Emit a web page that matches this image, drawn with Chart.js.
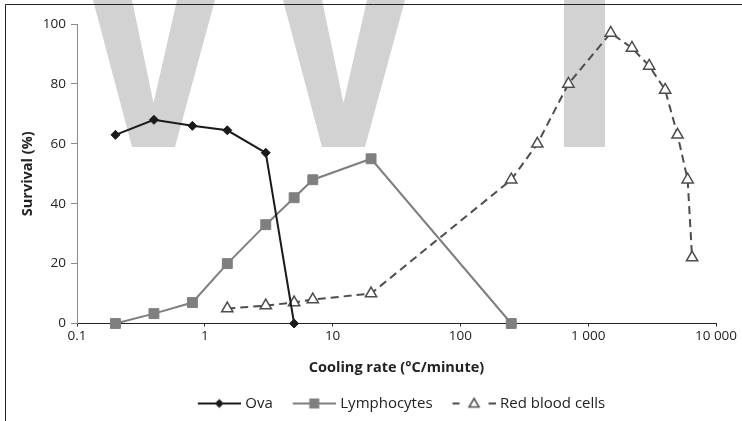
<!DOCTYPE html>
<html>
<head>
<meta charset="utf-8">
<script src="https://cdn.jsdelivr.net/npm/chart.js@4.4.1/dist/chart.umd.min.js"></script>
<style>
  html, body { margin: 0; padding: 0; background: #fff; }
</style>
</head>
<body>
<canvas id="myChart" width="742" height="421"></canvas>
<script>
// values
const ovaRate = [0.2, 0.4, 0.8, 1.5, 3, 5];
const ovaSurvival = [63, 68, 66, 64.5, 57, 0];
const lymphRate = [0.2, 0.4, 0.8, 1.5, 3, 5, 7, 20, 250];
const lymphSurvival = [0, 3.3, 7, 20, 33, 42, 48, 55, 0];
const rbcRate = [1.5, 3, 5, 7, 20, 250, 400, 700, 1500, 2200, 3000, 4000, 5000, 6000, 6500];
const rbcSurvival = [5, 6, 7, 8, 10, 48, 60, 80, 97, 92, 86, 78, 63, 48, 22];
const seriesNames = ["Ova", "Lymphocytes", "Red blood cells"];
const xTicks = [0.1, 1, 10, 100, 1000, 10000];
const xTickLabels = ["0.1", "1", "10", "100", "1 000", "10 000"];
const yTicks = [0, 20, 40, 60, 80, 100];

const family = "'Open Sans', sans-serif";
const ovaColor = "#1a1a1a";
const lymphColor = "#7f7f7f";
const rbcColor = "#4d4d4d";

const toPoints = (xs, ys) => xs.map((x, i) => ({ x, y: ys[i] }));

// legend samples: line with the marker in the middle
function legendIcon(kind) {
  const c = document.createElement("canvas");
  c.width = 56;
  c.height = 16;
  const g = c.getContext("2d");
  const x0 = 13, x1 = 56, cx = (x0 + x1) / 2, cy = 8;
  g.lineWidth = 2;
  if (kind === 0) {
    g.strokeStyle = ovaColor;
    g.beginPath(); g.moveTo(x0, cy); g.lineTo(x1, cy); g.stroke();
    g.fillStyle = ovaColor;
    g.beginPath();
    g.moveTo(cx, cy - 4.5); g.lineTo(cx + 4.5, cy); g.lineTo(cx, cy + 4.5); g.lineTo(cx - 4.5, cy);
    g.closePath(); g.fill();
  } else if (kind === 1) {
    g.strokeStyle = lymphColor;
    g.beginPath(); g.moveTo(x0, cy); g.lineTo(x1, cy); g.stroke();
    g.fillStyle = lymphColor;
    g.fillRect(cx - 5, cy - 5, 10, 10);
  } else {
    g.strokeStyle = rbcColor;
    g.beginPath();
    g.moveTo(x0, cy); g.lineTo(x0 + 7, cy);
    g.moveTo(x1 - 7, cy); g.lineTo(x1, cy);
    g.stroke();
    g.lineWidth = 1.5;
    g.beginPath();
    g.moveTo(cx, cy - 5); g.lineTo(cx + 5, cy + 3.5); g.lineTo(cx - 5, cy + 3.5);
    g.closePath(); g.stroke();
  }
  return c;
}
const legendIcons = [legendIcon(0), legendIcon(1), legendIcon(2)];

const watermark = {
  id: "watermark",
  beforeDraw(chart) {
    const g = chart.ctx;
    g.save();
    g.fillStyle = "#fff";
    g.fillRect(0, 0, chart.width, chart.height);
    g.fillStyle = "#d2d2d2";
    const vee = (dx) => {
      g.beginPath();
      g.moveTo(93 + dx, 0); g.lineTo(132 + dx, 0); g.lineTo(153.5 + dx, 103);
      g.lineTo(177 + dx, 0); g.lineTo(215 + dx, 0); g.lineTo(175 + dx, 147);
      g.lineTo(132 + dx, 147); g.closePath(); g.fill();
    };
    vee(0);
    vee(190);
    g.fillRect(564, 0, 41, 147);
    g.restore();
  },
  afterDraw(chart) {
    const g = chart.ctx;
    g.save();
    g.strokeStyle = "#222";
    g.lineWidth = 1;
    g.beginPath();
    g.moveTo(5.5, 421); g.lineTo(5.5, 4.5); g.lineTo(742, 4.5);
    g.stroke();
    g.restore();
  }
};

const ctx = document.getElementById("myChart");
const myChart = new Chart(ctx, {
  type: "scatter",
  data: {
    datasets: [
      {
        label: seriesNames[0],
        data: toPoints(ovaRate, ovaSurvival),
        showLine: true,
        borderColor: ovaColor,
        backgroundColor: ovaColor,
        borderWidth: 2,
        pointStyle: "rectRot",
        pointRadius: 4.5,
        pointBorderWidth: 1,
        clip: false,
      },
      {
        label: seriesNames[1],
        data: toPoints(lymphRate, lymphSurvival),
        showLine: true,
        borderColor: lymphColor,
        backgroundColor: lymphColor,
        borderWidth: 2,
        pointStyle: "rect",
        pointRadius: 7,
        pointBorderWidth: 1,
        clip: false,
      },
      {
        label: seriesNames[2],
        data: toPoints(rbcRate, rbcSurvival),
        showLine: true,
        borderColor: rbcColor,
        backgroundColor: "#fff",
        borderWidth: 2,
        borderDash: [8, 5],
        pointStyle: "triangle",
        pointRadius: 6.5,
        pointBorderWidth: 1.5,
        clip: false,
      },
    ],
  },
  options: {
    responsive: false,
    animation: false,
    layout: { padding: { left: 0, right: 26, top: 24, bottom: 0 } },
    scales: {
      x: {
        type: "logarithmic",
        min: 0.1,
        max: 10000,
        afterBuildTicks: (s) => { s.ticks = xTicks.map((v) => ({ value: v })); },
        afterFit: (s) => { s.height = 62.5; },
        ticks: {
          autoSkip: false,
          maxRotation: 0,
          padding: 2,
          color: "#222",
          font: { family, size: 13.5 },
          callback: (v, i) => xTickLabels[i],
        },
        grid: { drawOnChartArea: false, tickLength: 3, color: "#222" },
        border: { color: "#222", width: 1 },
        title: {
          display: true,
          text: "Cooling rate (°C/minute)",
          color: "#222",
          font: { family, size: 14.5, weight: "bold" },
          padding: { top: 0, bottom: 9 },
        },
      },
      y: {
        min: 0,
        max: 100,
        afterBuildTicks: (s) => { s.ticks = yTicks.map((v) => ({ value: v })); },
        afterFit: (s) => { s.width = 77; },
        ticks: { padding: 5, color: "#222", font: { family, size: 13.5 } },
        grid: { drawOnChartArea: false, tickLength: 6, color: "#8c8c8c" },
        border: { color: "#8c8c8c", width: 1 },
        title: {
          display: true,
          text: "Survival (%)",
          color: "#222",
          font: { family, size: 14.5, weight: "bold" },
          padding: { top: 19, bottom: 0 },
        },
      },
    },
    plugins: {
      tooltip: { enabled: false },
      legend: {
        position: "bottom",
        fullSize: false,
        labels: {
          usePointStyle: true,
          pointStyleWidth: 50,
          padding: 10,
          color: "#222",
          font: { family, size: 15 },
          generateLabels: (chart) =>
            Chart.defaults.plugins.legend.labels.generateLabels(chart).map((l, i) => ({
              ...l,
              pointStyle: legendIcons[i],
            })),
        },
      },
    },
  },
  plugins: [watermark],
});
</script>
</body>
</html>
